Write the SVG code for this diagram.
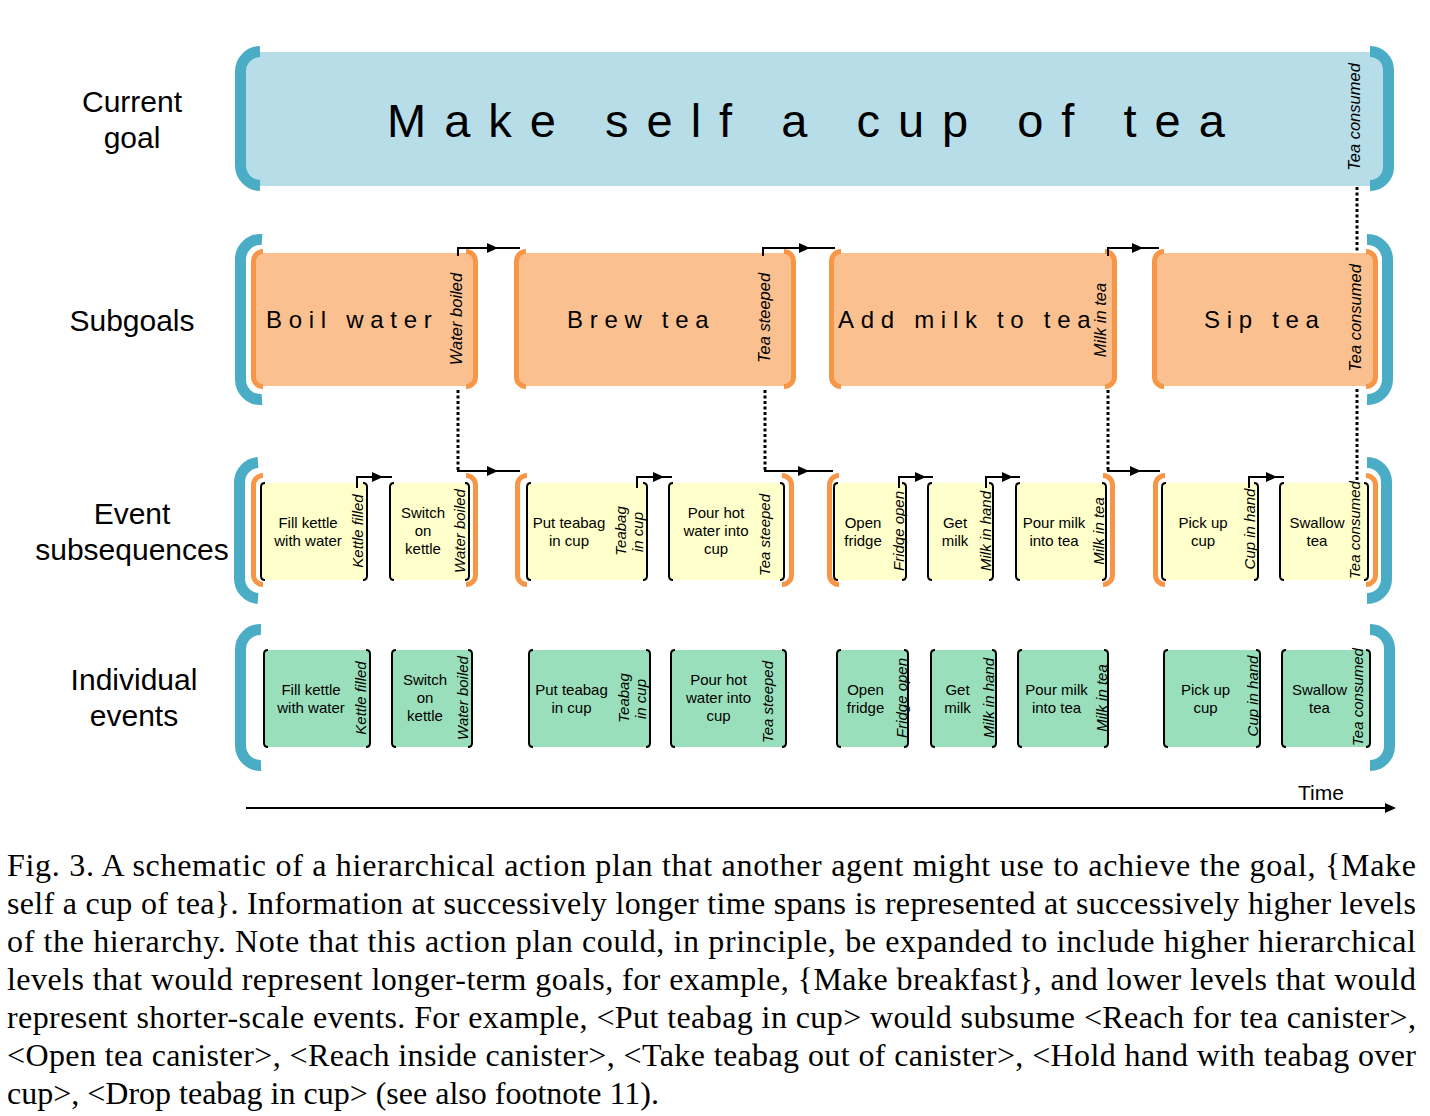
<svg xmlns="http://www.w3.org/2000/svg" xmlns:xlink="http://www.w3.org/1999/xlink" width="1430" height="1116" viewBox="0 0 1430 1116">
<defs>
<style>
text{font-family:"Liberation Sans",Arial,sans-serif;fill:#000}
.lbl{font-size:30px;text-anchor:middle}
.goal{font-size:47px;letter-spacing:18px}
.sg{font-size:24px;letter-spacing:6.7px}
.vl{font-size:16.5px;font-style:italic;text-anchor:middle}
.ev{font-size:15px;text-anchor:middle}
.evi{font-size:15px;font-style:italic;text-anchor:middle}
.cap{font-family:"Liberation Serif","Times New Roman",serif;font-size:32px}
.bb{fill:none;stroke:#4BACC6;stroke-width:11}
.ob{fill:none;stroke:#F79646;stroke-width:5}
.kb{fill:none;stroke:#000;stroke-width:2}
.gfill{fill:#B7DEE8}
.ofill{fill:#FAC090}
.yfill{fill:#FFFFCC}
.grfill{fill:#9ADFBB}
.dot{fill:none;stroke:#000;stroke-width:3;stroke-dasharray:3 2.5}
.ln{fill:none;stroke:#000;stroke-width:2}
</style>
<path id="ah" d="M0,0 L-11,-5 L-11,5 Z" fill="#000"/>
</defs>

<g id="row-labels">
<text class="lbl" x="132" y="112">Current</text>
<text class="lbl" x="132" y="148">goal</text>
<text class="lbl" x="132" y="331">Subgoals</text>
<text class="lbl" x="132" y="524">Event</text>
<text class="lbl" x="132" y="560">subsequences</text>
<text class="lbl" x="134" y="690">Individual</text>
<text class="lbl" x="134" y="726">events</text>
</g>

<!-- Current goal -->
<g id="goal">
<rect class="gfill" x="244" y="52" width="1140" height="134" rx="12"/>
<path class="bb" d="M260 51.5 A20 20 0 0 0 240.5 71.5 L240.5 165.5 A20 20 0 0 0 260 185.5"/>
<path class="bb" d="M1370 51.5 A18.5 18.5 0 0 1 1388.5 70 L1388.5 167 A18.5 18.5 0 0 1 1370 185.5"/>
<text class="goal" x="387" y="137">Make self a cup of tea</text>
<text class="vl" transform="translate(1360,117) rotate(-90)">Tea consumed</text>
</g>

<!-- Subgoal level brackets -->
<g id="subgoal-level">
<path class="bb" d="M262 239.5 A20 20 0 0 0 240.5 259.5 L240.5 379.5 A20 20 0 0 0 262 399.5"/>
<path class="bb" d="M1367 239.5 A20 20 0 0 1 1387.5 259.5 L1387.5 379.5 A20 20 0 0 1 1367 399.5"/>
</g>

<g id="sg-boil">
<rect class="ofill" x="254" y="253" width="221" height="133" rx="6"/>
<path class="ob" d="M263 251.5 A9.5 9.5 0 0 0 253.5 261 L253.5 377 A9.5 9.5 0 0 0 263 386.5"/>
<path class="ob" d="M466 251.5 A9.5 9.5 0 0 1 475.5 261 L475.5 377 A9.5 9.5 0 0 1 466 386.5"/>
<text class="sg" x="266" y="328">Boil water</text>
<text class="vl" transform="translate(462,319) rotate(-90)">Water boiled</text>
</g>

<g id="sg-brew">
<rect class="ofill" x="517" y="253" width="276" height="133" rx="6"/>
<path class="ob" d="M526 251.5 A9.5 9.5 0 0 0 516.5 261 L516.5 377 A9.5 9.5 0 0 0 526 386.5"/>
<path class="ob" d="M784 251.5 A9.5 9.5 0 0 1 793.5 261 L793.5 377 A9.5 9.5 0 0 1 784 386.5"/>
<text class="sg" x="567" y="328">Brew tea</text>
<text class="vl" transform="translate(770,318) rotate(-90)">Tea steeped</text>
</g>

<g id="sg-milk">
<rect class="ofill" x="832" y="253" width="282" height="133" rx="6"/>
<path class="ob" d="M841 251.5 A9.5 9.5 0 0 0 831.5 261 L831.5 377 A9.5 9.5 0 0 0 841 386.5"/>
<path class="ob" d="M1105 251.5 A9.5 9.5 0 0 1 1114.5 261 L1114.5 377 A9.5 9.5 0 0 1 1105 386.5"/>
<text class="sg" x="838" y="328">Add milk to tea</text>
<text class="vl" transform="translate(1106,320) rotate(-90)">Milk in tea</text>
</g>

<g id="sg-sip">
<rect class="ofill" x="1155" y="253" width="220" height="133" rx="6"/>
<path class="ob" d="M1164 251.5 A9.5 9.5 0 0 0 1154.5 261 L1154.5 377 A9.5 9.5 0 0 0 1164 386.5"/>
<path class="ob" d="M1366 251.5 A9.5 9.5 0 0 1 1375.5 261 L1375.5 377 A9.5 9.5 0 0 1 1366 386.5"/>
<text class="sg" x="1204" y="328">Sip tea</text>
<text class="vl" transform="translate(1361,318) rotate(-90)">Tea consumed</text>
</g>

<!-- Event subsequence level -->
<g id="event-level">
<path class="bb" d="M258 462.5 A20 20 0 0 0 239.5 482.5 L239.5 578.5 A20 20 0 0 0 258 598.5"/>
<path class="bb" d="M1367 462.5 A19.5 19.5 0 0 1 1386.5 482 L1386.5 579 A19.5 19.5 0 0 1 1367 598.5"/>
</g>

<g id="es-boil">
<path class="ob" d="M263 475.5 A9.5 9.5 0 0 0 253.5 485 L253.5 575 A9.5 9.5 0 0 0 263 584.5"/>
<path class="ob" d="M466 475.5 A9.5 9.5 0 0 1 475.5 485 L475.5 575 A9.5 9.5 0 0 1 466 584.5"/>
</g>
<g id="es-brew">
<path class="ob" d="M527 475.5 A9.5 9.5 0 0 0 517.5 485 L517.5 575 A9.5 9.5 0 0 0 527 584.5"/>
<path class="ob" d="M782 475.5 A9.5 9.5 0 0 1 791.5 485 L791.5 575 A9.5 9.5 0 0 1 782 584.5"/>
</g>
<g id="es-milk">
<path class="ob" d="M839 475.5 A9.5 9.5 0 0 0 829.5 485 L829.5 575 A9.5 9.5 0 0 0 839 584.5"/>
<path class="ob" d="M1103 475.5 A9.5 9.5 0 0 1 1112.5 485 L1112.5 575 A9.5 9.5 0 0 1 1103 584.5"/>
</g>
<g id="es-sip">
<path class="ob" d="M1165 475.5 A9.5 9.5 0 0 0 1155.5 485 L1155.5 575 A9.5 9.5 0 0 0 1165 584.5"/>
<path class="ob" d="M1366 475.5 A9.5 9.5 0 0 1 1375.5 485 L1375.5 575 A9.5 9.5 0 0 1 1366 584.5"/>
</g>

<g id="ev-fill">
<rect class="yfill" x="261" y="483" width="106" height="97"/>
<path class="kb" d="M265 483 Q261 483 261 487 L261 576 Q261 580 265 580"/>
<path class="kb" d="M363 483 Q367 483 367 487 L367 576 Q367 580 363 580"/>
<text class="ev" x="308" y="528">Fill kettle</text>
<text class="ev" x="308" y="546">with water</text>
<text class="evi" transform="translate(363,531) rotate(-90)">Kettle filled</text>
</g>
<g id="ev-switch">
<rect class="yfill" x="390" y="483" width="79" height="97"/>
<path class="kb" d="M394 483 Q390 483 390 487 L390 576 Q390 580 394 580"/>
<path class="kb" d="M465 483 Q469 483 469 487 L469 576 Q469 580 465 580"/>
<text class="ev" x="423" y="518">Switch</text>
<text class="ev" x="423" y="536">on</text>
<text class="ev" x="423" y="554">kettle</text>
<text class="evi" transform="translate(465,531) rotate(-90)">Water boiled</text>
</g>
<g id="ev-teabag">
<rect class="yfill" x="527" y="483" width="120" height="97"/>
<path class="kb" d="M531 483 Q527 483 527 487 L527 576 Q527 580 531 580"/>
<path class="kb" d="M643 483 Q647 483 647 487 L647 576 Q647 580 643 580"/>
<text class="ev" x="569" y="528">Put teabag</text>
<text class="ev" x="569" y="546">in cup</text>
<text class="evi" transform="translate(626,531) rotate(-90)">Teabag</text>
<text class="evi" transform="translate(643,532) rotate(-90)">in cup</text>
</g>
<g id="ev-pour">
<rect class="yfill" x="669" y="483" width="115" height="97"/>
<path class="kb" d="M673 483 Q669 483 669 487 L669 576 Q669 580 673 580"/>
<path class="kb" d="M780 483 Q784 483 784 487 L784 576 Q784 580 780 580"/>
<text class="ev" x="716" y="518">Pour hot</text>
<text class="ev" x="716" y="536">water into</text>
<text class="ev" x="716" y="554">cup</text>
<text class="evi" transform="translate(770,535) rotate(-90)">Tea steeped</text>
</g>
<g id="ev-fridge">
<rect class="yfill" x="834" y="483" width="72" height="97"/>
<path class="kb" d="M838 483 Q834 483 834 487 L834 576 Q834 580 838 580"/>
<path class="kb" d="M902 483 Q906 483 906 487 L906 576 Q906 580 902 580"/>
<text class="ev" x="863" y="528">Open</text>
<text class="ev" x="863" y="546">fridge</text>
<text class="evi" transform="translate(904,531) rotate(-90)">Fridge open</text>
</g>
<g id="ev-getmilk">
<rect class="yfill" x="928" y="483" width="65" height="97"/>
<path class="kb" d="M932 483 Q928 483 928 487 L928 576 Q928 580 932 580"/>
<path class="kb" d="M989 483 Q993 483 993 487 L993 576 Q993 580 989 580"/>
<text class="ev" x="955" y="528">Get</text>
<text class="ev" x="955" y="546">milk</text>
<text class="evi" transform="translate(991,531) rotate(-90)">Milk in hand</text>
</g>
<g id="ev-pourmilk">
<rect class="yfill" x="1016" y="483" width="90" height="97"/>
<path class="kb" d="M1020 483 Q1016 483 1016 487 L1016 576 Q1016 580 1020 580"/>
<path class="kb" d="M1102 483 Q1106 483 1106 487 L1106 576 Q1106 580 1102 580"/>
<text class="ev" x="1054" y="528">Pour milk</text>
<text class="ev" x="1054" y="546">into tea</text>
<text class="evi" transform="translate(1104,531) rotate(-90)">Milk in tea</text>
</g>
<g id="ev-pickup">
<rect class="yfill" x="1162" y="483" width="96" height="97"/>
<path class="kb" d="M1166 483 Q1162 483 1162 487 L1162 576 Q1162 580 1166 580"/>
<path class="kb" d="M1254 483 Q1258 483 1258 487 L1258 576 Q1258 580 1254 580"/>
<text class="ev" x="1203" y="528">Pick up</text>
<text class="ev" x="1203" y="546">cup</text>
<text class="evi" transform="translate(1255,529) rotate(-90)">Cup in hand</text>
</g>
<g id="ev-swallow">
<rect class="yfill" x="1280" y="483" width="88" height="97"/>
<path class="kb" d="M1284 483 Q1280 483 1280 487 L1280 576 Q1280 580 1284 580"/>
<path class="kb" d="M1364 483 Q1368 483 1368 487 L1368 576 Q1368 580 1364 580"/>
<text class="ev" x="1317" y="528">Swallow</text>
<text class="ev" x="1317" y="546">tea</text>
<text class="evi" transform="translate(1360,530) rotate(-90)">Tea consumed</text>
</g>

<!-- Individual events level -->
<g id="individual-level">
<path class="bb" d="M261 629.5 A20 20 0 0 0 240.5 649.5 L240.5 745.5 A20 20 0 0 0 261 765.5"/>
<path class="bb" d="M1370 629.5 A19.5 19.5 0 0 1 1389.5 649 L1389.5 746 A19.5 19.5 0 0 1 1370 765.5"/>
</g>

<g id="ie-fill">
<rect class="grfill" x="264" y="650" width="106" height="97"/>
<path class="kb" d="M268 650 Q264 650 264 654 L264 743 Q264 747 268 747"/>
<path class="kb" d="M366 650 Q370 650 370 654 L370 743 Q370 747 366 747"/>
<text class="ev" x="311" y="695">Fill kettle</text>
<text class="ev" x="311" y="713">with water</text>
<text class="evi" transform="translate(365.5,698) rotate(-90)">Kettle filled</text>
</g>
<g id="ie-switch">
<rect class="grfill" x="392" y="650" width="80" height="97"/>
<path class="kb" d="M396 650 Q392 650 392 654 L392 743 Q392 747 396 747"/>
<path class="kb" d="M468 650 Q472 650 472 654 L472 743 Q472 747 468 747"/>
<text class="ev" x="425" y="685">Switch</text>
<text class="ev" x="425" y="703">on</text>
<text class="ev" x="425" y="721">kettle</text>
<text class="evi" transform="translate(467.5,698) rotate(-90)">Water boiled</text>
</g>
<g id="ie-teabag">
<rect class="grfill" x="529" y="650" width="121" height="97"/>
<path class="kb" d="M533 650 Q529 650 529 654 L529 743 Q529 747 533 747"/>
<path class="kb" d="M646 650 Q650 650 650 654 L650 743 Q650 747 646 747"/>
<text class="ev" x="571.5" y="695">Put teabag</text>
<text class="ev" x="571.5" y="713">in cup</text>
<text class="evi" transform="translate(628.5,698) rotate(-90)">Teabag</text>
<text class="evi" transform="translate(645.5,699) rotate(-90)">in cup</text>
</g>
<g id="ie-pour">
<rect class="grfill" x="671" y="650" width="115" height="97"/>
<path class="kb" d="M675 650 Q671 650 671 654 L671 743 Q671 747 675 747"/>
<path class="kb" d="M782 650 Q786 650 786 654 L786 743 Q786 747 782 747"/>
<text class="ev" x="718.5" y="685">Pour hot</text>
<text class="ev" x="718.5" y="703">water into</text>
<text class="ev" x="718.5" y="721">cup</text>
<text class="evi" transform="translate(772.5,702) rotate(-90)">Tea steeped</text>
</g>
<g id="ie-fridge">
<rect class="grfill" x="837" y="650" width="71" height="97"/>
<path class="kb" d="M841 650 Q837 650 837 654 L837 743 Q837 747 841 747"/>
<path class="kb" d="M904 650 Q908 650 908 654 L908 743 Q908 747 904 747"/>
<text class="ev" x="865.5" y="695">Open</text>
<text class="ev" x="865.5" y="713">fridge</text>
<text class="evi" transform="translate(906.5,698) rotate(-90)">Fridge open</text>
</g>
<g id="ie-getmilk">
<rect class="grfill" x="931" y="650" width="65" height="97"/>
<path class="kb" d="M935 650 Q931 650 931 654 L931 743 Q931 747 935 747"/>
<path class="kb" d="M992 650 Q996 650 996 654 L996 743 Q996 747 992 747"/>
<text class="ev" x="957.5" y="695">Get</text>
<text class="ev" x="957.5" y="713">milk</text>
<text class="evi" transform="translate(993.5,698) rotate(-90)">Milk in hand</text>
</g>
<g id="ie-pourmilk">
<rect class="grfill" x="1018" y="650" width="90" height="97"/>
<path class="kb" d="M1022 650 Q1018 650 1018 654 L1018 743 Q1018 747 1022 747"/>
<path class="kb" d="M1104 650 Q1108 650 1108 654 L1108 743 Q1108 747 1104 747"/>
<text class="ev" x="1056.5" y="695">Pour milk</text>
<text class="ev" x="1056.5" y="713">into tea</text>
<text class="evi" transform="translate(1106.5,698) rotate(-90)">Milk in tea</text>
</g>
<g id="ie-pickup">
<rect class="grfill" x="1164" y="650" width="96" height="97"/>
<path class="kb" d="M1168 650 Q1164 650 1164 654 L1164 743 Q1164 747 1168 747"/>
<path class="kb" d="M1256 650 Q1260 650 1260 654 L1260 743 Q1260 747 1256 747"/>
<text class="ev" x="1205.5" y="695">Pick up</text>
<text class="ev" x="1205.5" y="713">cup</text>
<text class="evi" transform="translate(1257.5,696) rotate(-90)">Cup in hand</text>
</g>
<g id="ie-swallow">
<rect class="grfill" x="1282" y="650" width="88" height="97"/>
<path class="kb" d="M1286 650 Q1282 650 1282 654 L1282 743 Q1282 747 1286 747"/>
<path class="kb" d="M1366 650 Q1370 650 1370 654 L1370 743 Q1370 747 1366 747"/>
<text class="ev" x="1319.5" y="695">Swallow</text>
<text class="ev" x="1319.5" y="713">tea</text>
<text class="evi" transform="translate(1362.5,697) rotate(-90)">Tea consumed</text>
</g>

<!-- Connectors -->
<g id="connectors">
<path class="dot" d="M458 390 V471"/>
<path class="dot" d="M765 390 V471"/>
<path class="dot" d="M1108 390 V471"/>
<path class="dot" d="M1357 187 V251"/>
<path class="dot" d="M1357 389 V483"/>

<path class="ln" d="M458 256 V248 H520"/>
<use xlink:href="#ah" x="498" y="248"/>
<path class="ln" d="M763 256 V248 H835"/>
<use xlink:href="#ah" x="810" y="248"/>
<path class="ln" d="M1108 256 V248 H1159"/>
<use xlink:href="#ah" x="1143" y="248"/>

<path class="ln" d="M458 472 V471 H520"/>
<use xlink:href="#ah" x="498" y="471"/>
<path class="ln" d="M765 472 V471 H833"/>
<use xlink:href="#ah" x="809" y="471"/>
<path class="ln" d="M1108 472 V471 H1160"/>
<use xlink:href="#ah" x="1141" y="471"/>

<path class="ln" d="M357 488 V477 H392"/>
<use xlink:href="#ah" x="383" y="477"/>
<path class="ln" d="M637 488 V477 H672"/>
<use xlink:href="#ah" x="664" y="477"/>
<path class="ln" d="M899 488 V477 H933"/>
<use xlink:href="#ah" x="926" y="477"/>
<path class="ln" d="M986 488 V477 H1020"/>
<use xlink:href="#ah" x="1013" y="477"/>
<path class="ln" d="M1249 488 V477 H1284"/>
<use xlink:href="#ah" x="1277" y="477"/>
</g>

<g id="time-axis">
<path class="ln" d="M246 808 H1386"/>
<use xlink:href="#ah" x="1396" y="808"/>
<text x="1321" y="800" style="font-size:21px;text-anchor:middle">Time</text>
</g>

<g id="caption">
<text class="cap" x="7" y="876" textLength="1409" lengthAdjust="spacing">Fig. 3.  A schematic of a hierarchical action plan that another agent might use to achieve the goal, {Make</text>
<text class="cap" x="7" y="914" textLength="1409" lengthAdjust="spacing">self a cup of tea}. Information at successively longer time spans is represented at successively higher levels</text>
<text class="cap" x="7" y="952" textLength="1409" lengthAdjust="spacing">of the hierarchy. Note that this action plan could, in principle, be expanded to include higher hierarchical</text>
<text class="cap" x="7" y="990" textLength="1409" lengthAdjust="spacing">levels that would represent longer-term goals, for example, {Make breakfast}, and lower levels that would</text>
<text class="cap" x="7" y="1028" textLength="1409" lengthAdjust="spacing">represent shorter-scale events. For example, &lt;Put teabag in cup&gt; would subsume &lt;Reach for tea canister&gt;,</text>
<text class="cap" x="7" y="1066" textLength="1409" lengthAdjust="spacing">&lt;Open tea canister&gt;, &lt;Reach inside canister&gt;, &lt;Take teabag out of canister&gt;, &lt;Hold hand with teabag over</text>
<text class="cap" x="7" y="1104">cup&gt;, &lt;Drop teabag in cup&gt; (see also footnote 11).</text>
</g>
</svg>
